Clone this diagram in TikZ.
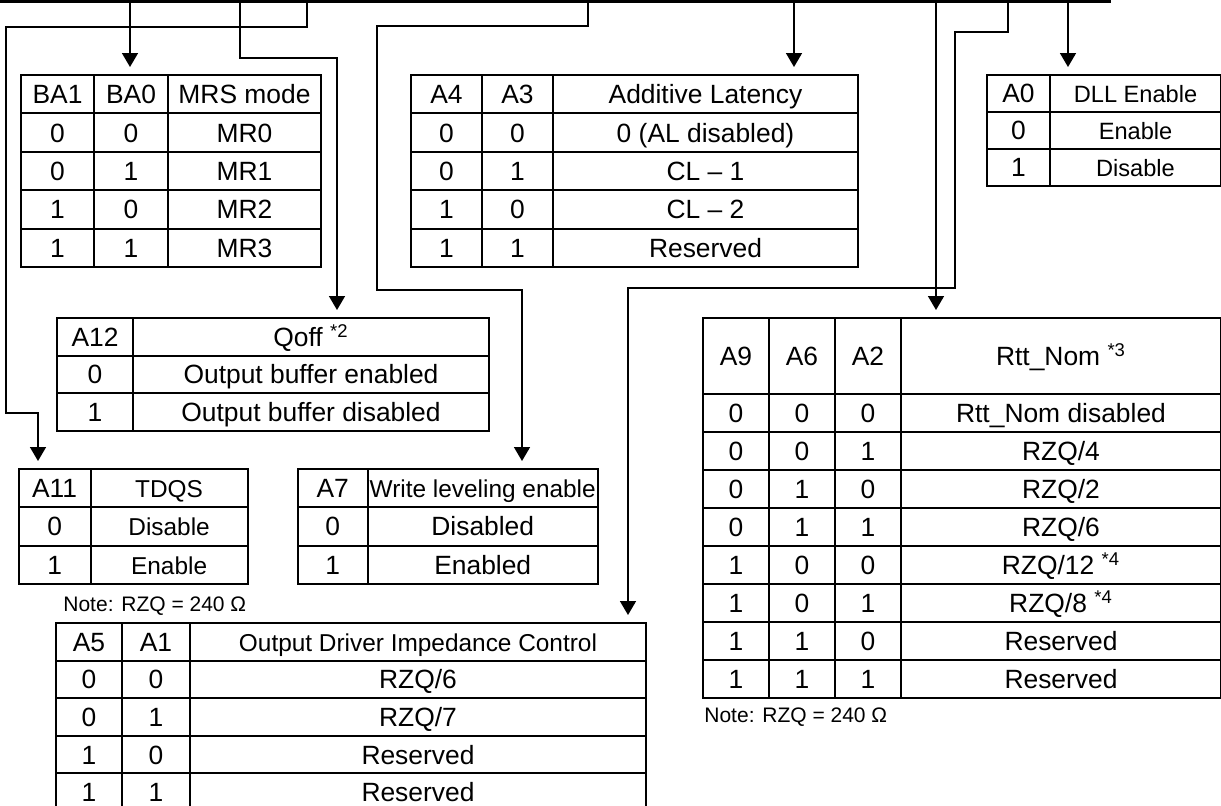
\documentclass[tikz,border=0pt]{standalone}
\usepackage{fontspec}
\setmainfont{Liberation Sans}
\usetikzlibrary{arrows.meta, positioning, matrix}

\newcommand{\cellfont}{\fontsize{13.2}{15}\selectfont}
\newcommand{\smallfont}{\fontsize{12.2}{14}\selectfont}
\newcommand{\dllfont}{\fontsize{11.8}{14}\selectfont}
\newcommand{\notefont}{\fontsize{10.5}{12}\selectfont}

\begin{document}
\begin{tikzpicture}[x=0.5pt, y=-0.5pt,
    bus/.style={line width=1.4pt},
    wire/.style={line width=0.8pt},
    feed/.style={wire, -{Triangle[width=8pt, length=7pt]}, shorten >=3.5pt},
    regtab/.style={matrix of nodes, anchor=north west, inner sep=0pt, outer sep=0pt,
        column sep=-1pt, row sep=-1pt,
        nodes={draw, line width=1pt, outer sep=0.5pt, inner sep=0pt, anchor=center,
            font=\cellfont, text height=9.45pt, text depth=0pt}},
    colw/.style 2 args={column #1/.style={nodes={minimum width=#2}}},
    rowh/.style={nodes={minimum height=#1}},
    note/.style={font=\notefont, inner sep=0pt}]

    \useasboundingbox (0,0) rectangle (1221,805);
    \clip (0,0) rectangle (1221,805);
    \fill[white] (0,0) rectangle (1221,805);

    % mode register tables
    \matrix (mrs) [regtab, rowh=19.2pt, colw={1}{36.5pt}, colw={2}{37pt}, colw={3}{76.5pt}] at (20,74) {
        BA1 & BA0 & MRS mode \\
        0 & 0 & MR0 \\
        0 & 1 & MR1 \\
        1 & 0 & MR2 \\
        1 & 1 & MR3 \\
    };
    \matrix (al) [regtab, rowh=19.2pt, colw={1}{35.5pt}, colw={2}{35.5pt}, colw={3}{152.5pt}] at (410,74) {
        A4 & A3 & Additive Latency \\
        0 & 0 & 0 (AL disabled) \\
        0 & 1 & CL – 1 \\
        1 & 0 & CL – 2 \\
        1 & 1 & Reserved \\
    };
    \matrix (dll) [regtab, rowh=18.5pt, colw={1}{31.5pt}, colw={2}{85.5pt}] at (986,74) {
        A0 & |[font=\dllfont]| DLL Enable \\
        0 & |[font=\dllfont]| Enable \\
        1 & |[font=\dllfont]| Disable \\
    };
    \matrix (qoff) [regtab, rowh=18.75pt, colw={1}{38pt}, colw={2}{178pt}] at (56,317) {
        A12 & Qoff \textsuperscript{*2} \\
        0 & Output buffer enabled \\
        1 & Output buffer disabled \\
    };
    \matrix (tdqs) [regtab, rowh=19.15pt, colw={1}{36pt}, colw={2}{78.5pt}] at (17.6,468) {
        A11 & |[font=\smallfont]| TDQS \\
        0 & |[font=\smallfont]| Disable \\
        1 & |[font=\smallfont]| Enable \\
    };
    \matrix (wl) [regtab, rowh=19.15pt, colw={1}{34.75pt}, colw={2}{115.25pt}] at (297,468) {
        A7 & |[font=\smallfont]| Write leveling enable \\
        0 & Disabled \\
        1 & Enabled \\
    };
    \matrix (odic) [regtab, rowh=18.8pt, colw={1}{33pt}, colw={2}{34pt}, colw={3}{228pt}] at (55,622) {
        A5 & A1 & |[font=\smallfont]| Output Driver Impedance Control \\
        0 & 0 & RZQ/6 \\
        0 & 1 & RZQ/7 \\
        1 & 0 & Reserved \\
        1 & 1 & Reserved \\
    };
    \matrix (rtt) [regtab, rowh=19pt, row 1/.style={nodes={minimum height=38pt}},
        colw={1}{33pt}, colw={2}{33pt}, colw={3}{33pt}, colw={4}{160pt}] at (702,317) {
        A9 & A6 & A2 & Rtt\_Nom \textsuperscript{*3} \\
        0 & 0 & 0 & Rtt\_Nom disabled \\
        0 & 0 & 1 & RZQ/4 \\
        0 & 1 & 0 & RZQ/2 \\
        0 & 1 & 1 & RZQ/6 \\
        1 & 0 & 0 & RZQ/12 \textsuperscript{*4} \\
        1 & 0 & 1 & RZQ/8 \textsuperscript{*4} \\
        1 & 1 & 0 & Reserved \\
        1 & 1 & 1 & Reserved \\
    };

    \node[note, above right=3pt and 4pt of odic.north west] (noteodic) {Note: RZQ = 240 Ω};
    \node[note, below right=4pt and 1pt of rtt.south west] (notertt) {Note: RZQ = 240 Ω};

    % address bus and taps
    \coordinate (busL) at (0,1.5);
    \coordinate (busR) at (1111,1.5);
    \coordinate (tapBA) at (130,1.5);
    \coordinate (tapQ) at (240,1.5);
    \coordinate (tapT) at (307,1.5);
    \coordinate (tapW) at (588,1.5);
    \coordinate (tapAL) at (794,1.5);
    \coordinate (tapR) at (936,1.5);
    \coordinate (tapO) at (1008,1.5);
    \coordinate (tapD) at (1068,1.5);
    \coordinate (bendQ) at (337,58);
    \coordinate (bendT1) at (6,27);
    \coordinate (bendT2) at (38,413);
    \coordinate (bendW1) at (377,26);
    \coordinate (bendW2) at (522,290);
    \coordinate (bendO1) at (955,32);
    \coordinate (bendO2) at (628,288);

    \draw[feed] (tapBA) -- (tapBA |- mrs.north);
    \draw[feed] (tapQ) |- (bendQ) -- (bendQ |- qoff.north);
    \draw[feed] (tapT) |- (bendT1) |- (bendT2) -- (bendT2 |- tdqs.north);
    \draw[feed] (tapW) |- (bendW1) |- (bendW2) -- (bendW2 |- wl.north);
    \draw[feed] (tapAL) -- (tapAL |- al.north);
    \draw[feed] (tapR) -- (tapR |- rtt.north);
    \draw[feed] (tapO) |- (bendO1) |- (bendO2) -- (bendO2 |- odic.north);
    \draw[feed] (tapD) -- (tapD |- dll.north);
    \draw[bus] (busL) -- (busR);
\end{tikzpicture}
\end{document}
